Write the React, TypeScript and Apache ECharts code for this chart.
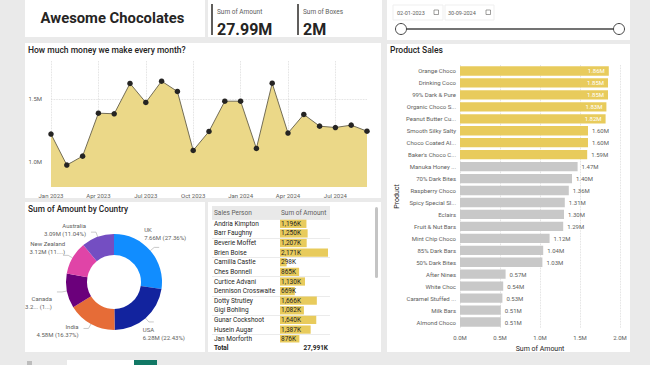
import React, { useEffect, useRef } from 'react';
import * as echarts from 'echarts';

// ---------- data ----------
const months = ['Jan 2023', 'Feb 2023', 'Mar 2023', 'Apr 2023', 'May 2023', 'Jun 2023', 'Jul 2023', 'Aug 2023', 'Sep 2023', 'Oct 2023', 'Nov 2023', 'Dec 2023', 'Jan 2024', 'Feb 2024', 'Mar 2024', 'Apr 2024', 'May 2024', 'Jun 2024', 'Jul 2024', 'Aug 2024', 'Sep 2024'];
const monthlyAmount = [1.22, 0.974, 1.045, 1.386, 1.381, 1.622, 1.471, 1.64, 1.558, 1.09, 1.241, 1.481, 1.481, 1.106, 1.624, 1.228, 1.376, 1.283, 1.272, 1.291, 1.243];
const monthlyTicks = [1.0, 1.5];

const countries = ['UK', 'USA', 'India', 'Canada', 'New Zealand', 'Australia'];
const countryAmounts = [7.66, 6.28, 4.58, 3.26, 3.12, 3.09];
const countryValueLabels = ['7.66M (27.36%)', '6.28M (22.43%)', '4.58M (16.37%)', '3.2... (1...)', '3.12M (11....)', '3.09M (11.04%)'];
const countryColors = ['#118DFF', '#12239E', '#E66C37', '#6B007B', '#E044A7', '#744EC2'];

const salesPersons = ['Andria Kimpton', 'Barr Faughny', 'Beverie Moffet', 'Brien Boise', 'Camilla Castle', 'Ches Bonnell', 'Curtice Advani', 'Dennison Crosswaite', 'Dotty Strutley', 'Gigi Bohling', 'Gunar Cockshoot', 'Husein Augar', 'Jan Morforth'];
const salesAmounts = [1196, 1250, 1207, 2171, 298, 865, 1130, 669, 1666, 1082, 1640, 1387, 876];
const salesTotal = 27991;

const products = ['Orange Choco', 'Drinking Coco', '99% Dark & Pure', 'Organic Choco S...', 'Peanut Butter Cu...', 'Smooth Silky Salty', 'Choco Coated Al...', "Baker's Choco C...", 'Manuka Honey ...', '70% Dark Bites', 'Raspberry Choco', 'Spicy Special Sl...', 'Eclairs', 'Fruit & Nut Bars', 'Mint Chip Choco', '85% Dark Bars', '50% Dark Bites', 'After Nines', 'White Choc', 'Caramel Stuffed ...', 'Milk Bars', 'Almond Choco'];
const productAmounts = [1.86, 1.85, 1.85, 1.83, 1.82, 1.6, 1.6, 1.59, 1.47, 1.4, 1.36, 1.31, 1.3, 1.29, 1.12, 1.04, 1.03, 0.57, 0.54, 0.53, 0.51, 0.51];

const kpiAmount = '27.99M';
const kpiBoxes = '2M';
const dateStart = '02-01-2023';
const dateEnd = '30-09-2024';

// ---------- styles ----------
const FONT = 'Roboto, sans-serif';
const DARK = '#252423';
const GREY = '#605E5C';
const YELLOW = '#E8CB5C';
const BARGREY = '#C8C8C8';
// label nudges for the donut (layout only)
const pieLabelShift = [
  [-20, -14],
  [-16, 12],
  [0, 2],
  [0, 11],
  [7, -8],
  [0, -3],
];

function txt(x: number, y: number, text: string, size: number, extra: any = {}) {
  return {
    type: 'text',
    x,
    y,
    z: extra.z ?? 10,
    style: {
      text,
      fontSize: size,
      fontFamily: FONT,
      fontWeight: extra.weight ?? 'normal',
      fill: extra.color ?? DARK,
      align: extra.align ?? 'left',
      verticalAlign: 'middle',
    },
  };
}
function panel(x: number, y: number, w: number, h: number) {
  return { type: 'rect', z: -10, shape: { x, y, width: w, height: h }, style: { fill: '#FFFFFF' } };
}

function buildOption(): any {
  const yMin = 0.8, yMax = 1.8, yStep = 0.1;
  const nTicks = Math.round((yMax - yMin) / yStep) + 1;
  const gridColors: string[] = [];
  for (let i = 0; i < nTicks; i++) {
    const v = yMin + i * yStep;
    gridColors.push(monthlyTicks.some((t) => Math.abs(t - v) < 1e-6) ? '#D6D6D6' : 'rgba(0,0,0,0)');
  }
  const salesMax = Math.max(...salesAmounts);

  const graphic: any[] = [
    // panels
    panel(25, 0, 180, 37),
    panel(208, 0, 174, 37),
    panel(387, 0, 243, 40),
    panel(25, 43, 356, 155),
    panel(25, 202, 180, 150),
    panel(208, 202, 173, 150),
    panel(387, 44, 243, 308),
    // header title
    txt(112.5, 18, 'Awesome Chocolates', 14.8, { weight: 'bold', align: 'center' }),
    // KPI cards
    { type: 'rect', z: 5, shape: { x: 211, y: 4, width: 2, height: 31 }, style: { fill: GREY } },
    { type: 'rect', z: 5, shape: { x: 297, y: 4, width: 2, height: 31 }, style: { fill: GREY } },
    txt(217, 12, 'Sum of Amount', 6.5, { color: GREY }),
    txt(217, 29, kpiAmount, 16, { weight: 'bold' }),
    txt(303, 12, 'Sum of Boxes', 6.5, { color: GREY }),
    txt(303, 29, kpiBoxes, 16, { weight: 'bold' }),
    // date slicer
    { type: 'rect', z: 5, shape: { x: 393, y: 5, width: 50, height: 15 }, style: { fill: 'none', stroke: '#EFEFEF', lineWidth: 1 } },
    { type: 'rect', z: 5, shape: { x: 445, y: 5, width: 49, height: 15 }, style: { fill: 'none', stroke: '#EFEFEF', lineWidth: 1 } },
    txt(397, 12.5, dateStart, 5.5, { color: GREY }),
    txt(448, 12.5, dateEnd, 5.5, { color: GREY }),
    { type: 'rect', z: 6, shape: { x: 434, y: 10, width: 4.5, height: 4.5 }, style: { fill: 'none', stroke: GREY, lineWidth: 0.6 } },
    { type: 'rect', z: 6, shape: { x: 486, y: 10, width: 4.5, height: 4.5 }, style: { fill: 'none', stroke: GREY, lineWidth: 0.6 } },
    { type: 'line', z: 6, shape: { x1: 401, y1: 29, x2: 619, y2: 29 }, style: { stroke: '#444444', lineWidth: 1.5 } },
    { type: 'circle', z: 7, shape: { cx: 401, cy: 29, r: 5.5 }, style: { fill: '#FFFFFF', stroke: '#444444', lineWidth: 1 } },
    { type: 'circle', z: 7, shape: { cx: 619, cy: 29, r: 5.5 }, style: { fill: '#FFFFFF', stroke: '#444444', lineWidth: 1 } },
    // chart titles
    txt(28, 49.5, 'How much money we make every month?', 8.5, { weight: 500 }),
    txt(28, 209, 'Sum of Amount by Country', 8.3, { weight: 500 }),
    txt(390, 50, 'Product Sales', 8.5, { weight: 500 }),
    // table header
    { type: 'rect', z: 50, shape: { x: 212, y: 206, width: 118, height: 13 }, style: { fill: '#E9E9E9' } },
    txt(214, 212.5, 'Sales Person', 6.5, { color: GREY, z: 51 }),
    txt(281, 212.5, 'Sum of Amount', 6.5, { color: GREY, z: 51 }),
    // table total row
    { type: 'rect', z: 50, shape: { x: 212, y: 342.5, width: 118, height: 9 }, style: { fill: '#FFFFFF' } },
    txt(214, 347.5, 'Total', 6.5, { weight: 'bold', z: 51 }),
    txt(328, 347.5, salesTotal.toLocaleString('en-US') + 'K', 6.5, { weight: 'bold', align: 'right', z: 51 }),
    // table scrollbar
    { type: 'rect', z: 50, shape: { x: 375, y: 207, width: 3, height: 71, r: 1.5 }, style: { fill: '#C4C4C4' } },
    // bottom tabs
    { type: 'rect', z: 5, shape: { x: 27, y: 361, width: 5, height: 4 }, style: { fill: '#BDBDBD' } },
    { type: 'rect', z: 5, shape: { x: 67, y: 360, width: 67, height: 5 }, style: { fill: '#FFFFFF' } },
    { type: 'rect', z: 5, shape: { x: 134, y: 360, width: 23, height: 5 }, style: { fill: '#117865' } },
  ];

  return {
    animation: false,
    backgroundColor: '#EAEAEA',
    textStyle: { fontFamily: FONT },
    graphic: { elements: graphic },
    grid: [
      { left: 51, top: 61, width: 316, height: 126 },
      { left: 280, top: 219, width: 48, height: 125 },
      { left: 212, top: 219, width: 118, height: 125 },
      { left: 460, top: 65, width: 160, height: 263 },
    ],
    xAxis: [
      {
        gridIndex: 0,
        type: 'category',
        data: months,
        boundaryGap: false,
        axisLine: { show: false },
        axisTick: { show: false },
        axisLabel: { interval: 2, fontSize: 6, color: GREY, margin: 5 },
        splitLine: { show: true, interval: 2, lineStyle: { color: '#D6D6D6', type: 'dotted', width: 0.8 } },
      },
      { gridIndex: 1, type: 'value', min: 0, max: salesMax, show: false },
      { gridIndex: 2, type: 'value', min: 0, max: 1, show: false },
      {
        gridIndex: 3,
        type: 'value',
        min: 0,
        max: 2,
        interval: 0.5,
        axisLine: { show: false },
        axisTick: { show: false },
        axisLabel: { fontSize: 6, color: GREY, margin: 6, formatter: (v: number) => v.toFixed(1) + 'M' },
        splitLine: { lineStyle: { color: '#D6D6D6', type: 'dotted', width: 0.8 } },
        name: 'Sum of Amount',
        nameLocation: 'middle',
        nameGap: 17,
        nameTextStyle: { fontSize: 7, color: DARK },
      },
    ],
    yAxis: [
      {
        gridIndex: 0,
        type: 'value',
        min: yMin,
        max: yMax,
        interval: yStep,
        axisLine: { show: false },
        axisTick: { show: false },
        axisLabel: {
          fontSize: 6,
          color: GREY,
          margin: 9,
          formatter: (v: number) => (monthlyTicks.some((t) => Math.abs(t - v) < 1e-6) ? v.toFixed(1) + 'M' : ''),
        },
        splitLine: { show: true, lineStyle: { color: gridColors, type: 'dotted', width: 0.8 } },
      },
      {
        gridIndex: 1,
        type: 'category',
        inverse: true,
        data: salesPersons,
        axisLine: { show: false },
        axisTick: { show: false },
        axisLabel: { align: 'left', margin: 66, fontSize: 6.5, color: DARK },
        splitLine: { show: false },
      },
      {
        gridIndex: 2,
        type: 'category',
        inverse: true,
        data: salesPersons,
        axisLine: { show: false },
        axisTick: { show: false },
        axisLabel: { show: false },
        splitLine: { show: true, lineStyle: { color: '#E6E6E6', width: 0.8 } },
      },
      {
        gridIndex: 3,
        type: 'category',
        inverse: true,
        data: products,
        axisLine: { show: false },
        axisTick: { show: false },
        axisLabel: { fontSize: 6, color: GREY, margin: 4 },
        name: 'Product',
        nameLocation: 'middle',
        nameRotate: 90,
        nameGap: 60,
        nameTextStyle: { fontSize: 7, color: DARK },
      },
    ],
    series: [
      {
        type: 'line',
        xAxisIndex: 0,
        yAxisIndex: 0,
        data: monthlyAmount,
        symbol: 'circle',
        symbolSize: 5.5,
        itemStyle: { color: DARK },
        lineStyle: { color: '#736D55', width: 1 },
        areaStyle: { color: '#EBD888', opacity: 1 },
      },
      {
        type: 'pie',
        center: [114, 282],
        radius: [27, 48],
        startAngle: 90,
        data: countries.map((c, i) => ({ name: c, value: countryAmounts[i], itemStyle: { color: countryColors[i] } })),
        label: {
          show: true,
          position: 'outside',
          fontSize: 6,
          lineHeight: 8,
          color: GREY,
          formatter: (p: any) => `${p.name}\n${countryValueLabels[p.dataIndex]}`,
        },
        labelLine: { show: true, length: 5, length2: 5, lineStyle: { color: '#BBBBBB', width: 0.8 } },
        labelLayout: (p: any) => ({ dx: pieLabelShift[p.dataIndex][0], dy: pieLabelShift[p.dataIndex][1] }),
      },
      {
        type: 'bar',
        xAxisIndex: 1,
        yAxisIndex: 1,
        data: salesAmounts,
        barCategoryGap: '14%',
        itemStyle: { color: YELLOW },
        label: {
          show: true,
          position: 'insideLeft',
          distance: 1,
          fontSize: 6.5,
          color: DARK,
          formatter: (p: any) => Number(p.value).toLocaleString('en-US') + 'K',
        },
      },
      {
        type: 'bar',
        xAxisIndex: 3,
        yAxisIndex: 3,
        barCategoryGap: '22%',
        data: productAmounts.map((v) => ({
          value: v,
          itemStyle: { color: v >= 1.5 ? YELLOW : BARGREY },
          label: {
            show: true,
            position: v >= 1.8 ? 'insideRight' : 'right',
            distance: 4,
            fontSize: 6,
            color: v >= 1.8 ? '#FFFFFF' : GREY,
            formatter: (p: any) => Number(p.value).toFixed(2) + 'M',
          },
        })),
      },
    ],
  };
}

export default function App() {
  const ref = useRef<HTMLDivElement>(null);
  useEffect(() => {
    const chart = echarts.init(ref.current!, null, { renderer: 'svg' });
    chart.setOption(buildOption());
    return () => chart.dispose();
  }, []);
  return <div ref={ref} style={{ position: 'fixed', left: 0, top: 0, width: 650, height: 365 }} />;
}
